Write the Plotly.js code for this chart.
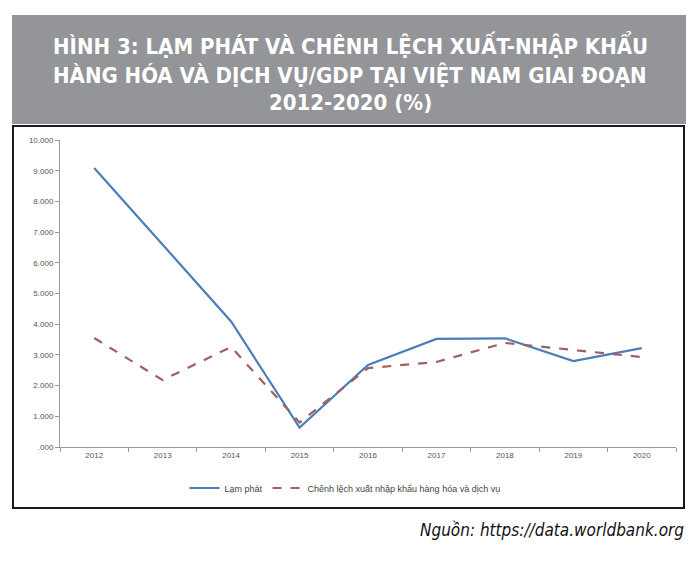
<!DOCTYPE html>
<html>
<head>
<meta charset="utf-8">
<script src="https://cdn.plot.ly/plotly-3.0.1.min.js"></script>
<style>html,body{margin:0;padding:0;background:#fff;}#chart{width:700px;height:562px;}</style>
</head>
<body>
<div id="chart"></div>
<script>
const years = ["2012","2013","2014","2015","2016","2017","2018","2019","2020"];
const inflation = [9.09, 6.59, 4.09, 0.63, 2.67, 3.52, 3.54, 2.80, 3.22];
const tradeBalance = [3.55, 2.18, 3.26, 0.80, 2.57, 2.77, 3.39, 3.16, 2.93];
const yTickVals = [0,1,2,3,4,5,6,7,8,9,10];
const yTickText = [".000","1.000","2.000","3.000","4.000","5.000","6.000","7.000","8.000","9.000","10.000"];
const seriesNames = ["Lạm phát", "Chênh lệch xuất nhập khẩu hàng hóa và dịch vụ"];
const titleLines = [
  "HÌNH 3: LẠM PHÁT VÀ CHÊNH LỆCH XUẤT-NHẬP KHẨU",
  "HÀNG HÓA VÀ DỊCH VỤ/GDP TẠI VIỆT NAM GIAI ĐOẠN",
  "2012-2020 (%)"
];
const sourceText = "Nguồn: https://data.worldbank.org";

// plot area in pixels
const L = 60, R = 676, T = 140, B = 447;
const px = x => (x - L) / (R - L);
const py = y => (B - y) / (B - T);

const traces = [
  {x: years, y: inflation, name: seriesNames[0], type: 'scatter', mode: 'lines',
   line: {color: '#4A7EBB', width: 2.2}},
  {x: years, y: tradeBalance, name: seriesNames[1], type: 'scatter', mode: 'lines',
   line: {color: '#A0605C', width: 2.2, dash: 'dash'}}
];

const titleY = [45, 75, 103];
const titleAnns = titleLines.map((t, i) => ({
  text: '<b>' + t + '</b>', xref: 'paper', yref: 'paper',
  x: px(350), y: py(titleY[i]), xanchor: 'center', yanchor: 'middle', showarrow: false,
  font: {family: 'DejaVu Sans Condensed, DejaVu Sans', size: 22, color: '#ffffff'}
}));

const layout = {
  width: 700, height: 562,
  margin: {l: L, r: 700 - R, t: T, b: 562 - B},
  paper_bgcolor: '#ffffff', plot_bgcolor: '#ffffff',
  showlegend: true,
  xaxis: {
    type: 'category', range: [-0.5, 8.5], fixedrange: true,
    showline: true, linecolor: '#9a9a9a', linewidth: 1,
    ticks: 'outside', tickson: 'boundaries', ticklen: 4, tickcolor: '#9a9a9a',
    showgrid: false, zeroline: false,
    tickfont: {family: 'Liberation Sans Narrow, Liberation Sans', size: 8, color: '#555555'}
  },
  yaxis: {
    range: [0, 10], fixedrange: true,
    tickvals: yTickVals, ticktext: yTickText,
    showline: true, linecolor: '#9a9a9a', linewidth: 1,
    ticks: 'outside', ticklen: 4, tickcolor: '#9a9a9a',
    showgrid: false, zeroline: false,
    tickfont: {family: 'Liberation Sans Narrow, Liberation Sans', size: 8, color: '#555555'}
  },
  legend: {
    orientation: 'h', x: px(345), xanchor: 'center', y: py(488), yanchor: 'middle',
    font: {family: 'Liberation Sans Narrow, Liberation Sans', size: 9, color: '#444444'},
    bgcolor: 'rgba(0,0,0,0)', itemwidth: 30, tracegroupgap: 0
  },
  shapes: [
    {type: 'rect', xref: 'paper', yref: 'paper', layer: 'below',
     x0: px(12), x1: px(686), y0: py(124), y1: py(15),
     fillcolor: '#939598', line: {width: 0}},
    {type: 'rect', xref: 'paper', yref: 'paper', layer: 'below',
     x0: px(13), x1: px(684), y0: py(508), y1: py(126),
     fillcolor: 'rgba(0,0,0,0)', line: {color: '#1a1a1a', width: 2}}
  ],
  annotations: titleAnns.concat([
    {text: '<i>' + sourceText + '</i>', xref: 'paper', yref: 'paper',
     x: px(686), y: py(530), xanchor: 'right', yanchor: 'middle', showarrow: false,
     font: {family: 'DejaVu Sans Condensed, DejaVu Sans', size: 17, color: '#111111'}}
  ])
};

Plotly.newPlot('chart', traces, layout, {staticPlot: true, displayModeBar: false});
</script>
</body>
</html>
